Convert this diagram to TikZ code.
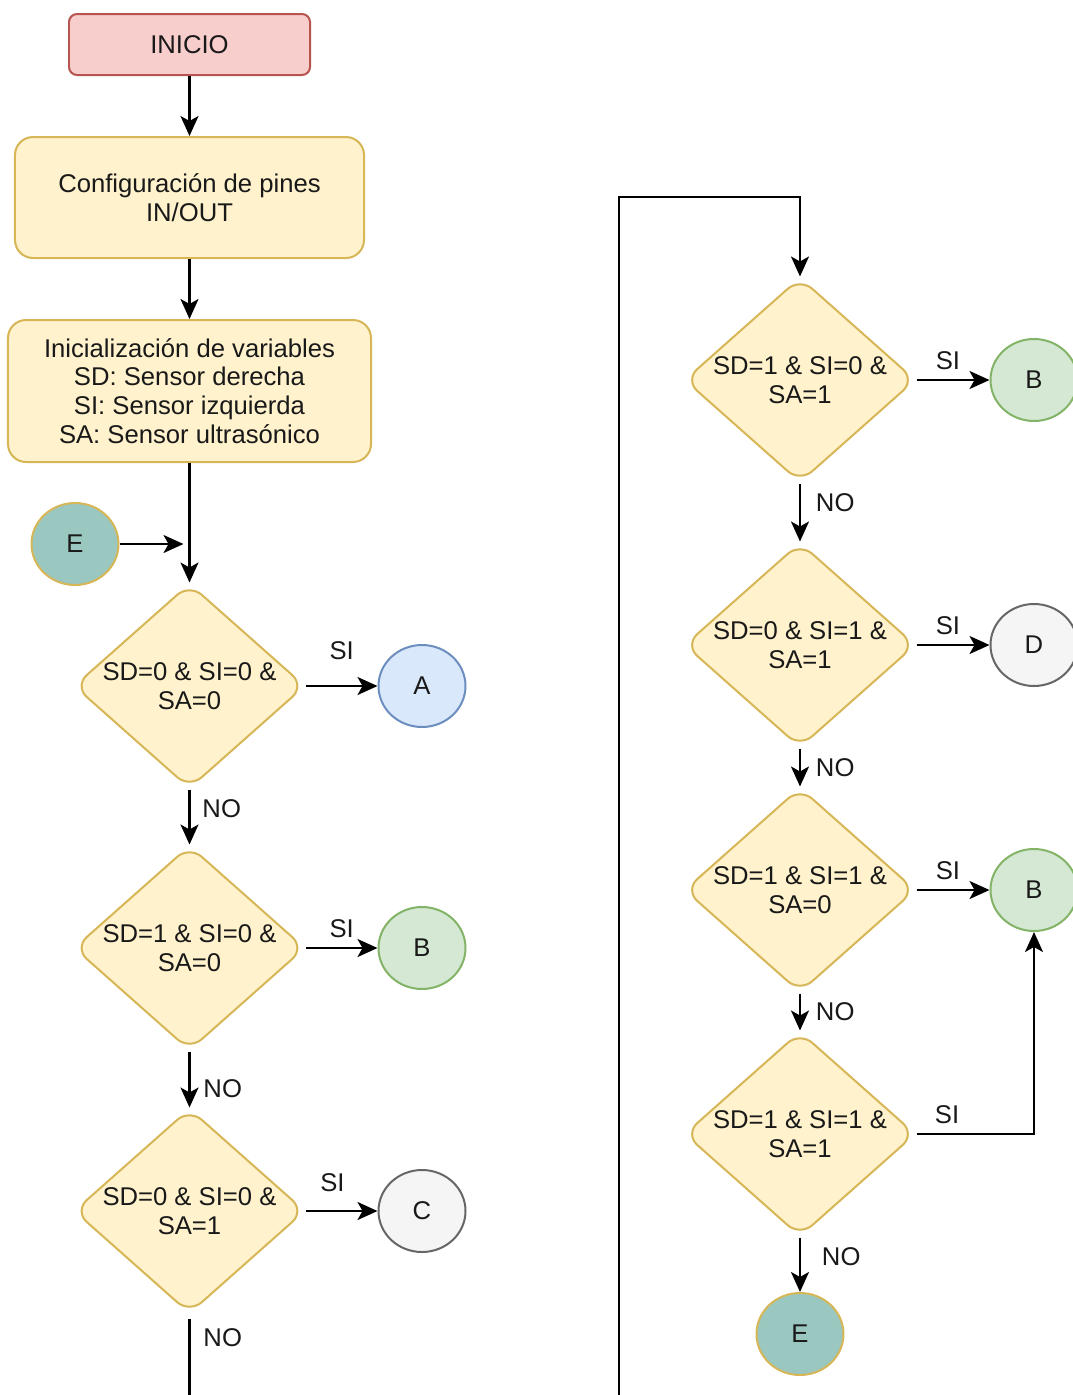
\documentclass[tikz,border=0pt]{standalone}
\usepackage{fontspec}
\setmainfont{Liberation Sans}
\usetikzlibrary{shapes.geometric,arrows.meta}

\definecolor{startfill}{HTML}{F8CECC}
\definecolor{startline}{HTML}{B85450}
\definecolor{yfill}{HTML}{FFF2CC}
\definecolor{yline}{HTML}{D6B656}
\definecolor{afill}{HTML}{DAE8FC}
\definecolor{aline}{HTML}{6C8EBF}
\definecolor{bfill}{HTML}{D5E8D4}
\definecolor{bline}{HTML}{82B366}
\definecolor{cfill}{HTML}{F5F5F5}
\definecolor{cline}{HTML}{666666}
\definecolor{efill}{HTML}{9AC7BF}

\tikzset{
  every node/.style={font=\fontsize{14.6}{16.4}\selectfont, text=black!90},
  startbox/.style={rectangle, rounded corners=0.16cm,
      draw=startline, fill=startfill, line width=0.04cm,
      minimum width=4.82cm, minimum height=1.22cm},
  procbox/.style={rectangle, rounded corners=0.36cm,
      draw=yline, fill=yfill, line width=0.04cm, align=center},
  decision/.style={diamond, aspect=1.127, rounded corners=0.33cm,
      draw=yline, fill=yfill, line width=0.04cm, align=center,
      inner sep=-0.3cm, minimum width=4.62cm, minimum height=4.1cm},
  conn/.style={ellipse, line width=0.04cm, inner sep=0pt,
      minimum width=1.74cm, minimum height=1.64cm},
  flow/.style={line width=0.045cm,
      -{Stealth[length=0.4cm, width=0.36cm, inset=0.1cm]}},
  plain/.style={line width=0.045cm},
}

\begin{document}
\begin{tikzpicture}
\useasboundingbox (0,0) rectangle (21.46,-27.9);

% left column
\node[startbox] (inicio) at (3.79,-0.89) {INICIO};

\node[procbox,
    minimum width = 6.98cm,
    minimum height = 2.42cm] (config) at (3.79,-3.95)
    {Configuración de pines\\IN/OUT};

\node[procbox,
    minimum width = 7.26cm,
    minimum height = 2.84cm] (init) at (3.79,-7.82)
    {Inicialización de variables\\SD: Sensor derecha\\SI: Sensor izquierda\\SA: Sensor ultrasónico};

\node[conn, draw = yline, fill = efill] (eL) at (1.5,-10.88) {E};
\coordinate (join) at (3.79,-10.88);

\node[decision] (d1) at (3.79,-13.72) {SD=0 \& SI=0 \&\\SA=0};
\node[conn, draw = aline, fill = afill] (cA) at (8.44,-13.72) {A};

\node[decision] (d2) at (3.79,-18.96) {SD=1 \& SI=0 \&\\SA=0};
\node[conn, draw = bline, fill = bfill] (cB) at (8.44,-18.96) {B};

\node[decision] (d3) at (3.79,-24.22) {SD=0 \& SI=0 \&\\SA=1};
\node[conn, draw = cline, fill = cfill] (cC) at (8.44,-24.22) {C};

\coordinate (cutL) at (3.79,-28.2);
\coordinate (cutR) at (12.38,-28.2);
\coordinate (loop) at (16,-3.94);

% right column
\node[decision] (r1) at (16,-7.6) {SD=1 \& SI=0 \&\\SA=1};
\node[conn, draw = bline, fill = bfill] (bR1) at (20.68,-7.6) {B};

\node[decision] (r2) at (16,-12.9) {SD=0 \& SI=1 \&\\SA=1};
\node[conn, draw = cline, fill = cfill] (cD) at (20.68,-12.9) {D};

\node[decision] (r3) at (16,-17.8) {SD=1 \& SI=1 \&\\SA=0};
\node[conn, draw = bline, fill = bfill] (bR3) at (20.68,-17.8) {B};

\node[decision] (r4) at (16,-22.68) {SD=1 \& SI=1 \&\\SA=1};
\node[conn, draw = yline, fill = efill] (eR) at (16,-26.68) {E};

% connectors, left
\draw[flow] (inicio) -- (config);
\draw[flow] (config) -- (init);
\draw[flow] (init) -- (d1);
\draw[flow, shorten >=0.12cm] (eL) -- (join);

\draw[flow] (d1) -- node[above=0.39cm] (si1) {SI} (cA);
\draw[flow] (d1) -- node[right=0.12cm, pos=0.34] (no1) {NO} (d2);
\draw[flow] (d2) -- node[above=0.07cm] (si2) {SI} (cB);
\draw[flow] (d2) -- node[right=0.14cm, pos=0.67] (no2) {NO} (d3);
\draw[flow] (d3) -- node[above=0.25cm, pos=0.37] (si3) {SI} (cC);
\draw[plain] (d3.south) ++(0,-0.09) -- node[right=0.14cm, pos=0.2] (no3) {NO} (cutL);

% loop back into the right column
\draw[flow] (cutR) |- (loop) -- (r1);

% connectors, right
\draw[flow] (r1) -- node[above=0.07cm, pos=0.43] (si4) {SI} (bR1);
\draw[flow] (r1) -- node[right=0.18cm, pos=0.33] (no4) {NO} (r2);
\draw[flow] (r2) -- node[above=0.07cm, pos=0.43] (si5) {SI} (cD);
\draw[flow] (r2) -- node[right=0.18cm] (no5) {NO} (r3);
\draw[flow] (r3) -- node[above=0.07cm, pos=0.43] (si6) {SI} (bR3);
\draw[flow] (r3) -- node[right=0.18cm] (no6) {NO} (r4);
\draw[flow] (r4) -| node[above=0.07cm, pos=0.13] (si7) {SI} (bR3);
\draw[flow] (r4) -- node[right=0.3cm, pos=0.36] (no7) {NO} (eR);

\end{tikzpicture}
\end{document}
